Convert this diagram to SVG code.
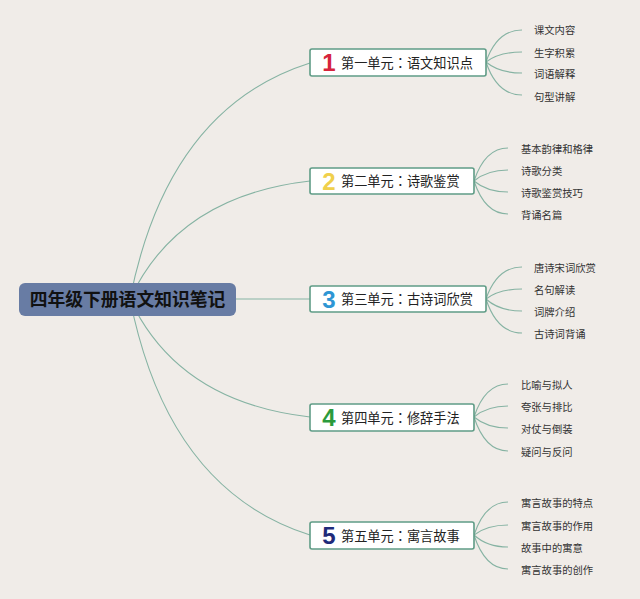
<svg xmlns="http://www.w3.org/2000/svg" width="640" height="599" viewBox="0 0 640 599">
<style>
.bg{fill:#f0ece8}
.con{fill:none;stroke:#86b3a3;stroke-width:1.1}
.root{fill:#687ca4}
.rt{font-family:"Noto Sans CJK SC","Liberation Sans",sans-serif;font-weight:bold;font-size:17.8px;fill:#111;text-anchor:middle}
.box{fill:#fff;stroke:#5f9c86;stroke-width:1.6}
.num{font-family:"Liberation Sans","DejaVu Sans",sans-serif;font-weight:bold;font-size:24px;text-anchor:middle}
.nt{font-family:"Noto Sans CJK SC","Liberation Sans",sans-serif;font-size:13.2px;fill:#222}
.cl{font-family:"Noto Sans CJK TC","Noto Sans CJK SC",sans-serif}
.lf{font-family:"Noto Sans CJK SC","Liberation Sans",sans-serif;font-size:10.3px;fill:#333}
</style>
<rect class="bg" x="0" y="0" width="640" height="599"/>
<g id="connectors">
<path class="con" d="M130,299 Q168,108 310,63"/>
<path class="con" d="M130,299 Q178,196 310,181"/>
<path class="con" d="M236,299 L310,299"/>
<path class="con" d="M130,299 Q178,402 310,417"/>
<path class="con" d="M130,299 Q168,490 310,535"/>
<path class="con" d="M486,62 Q497,30 522,30"/>
<path class="con" d="M486,62 Q499,52 522,52"/>
<path class="con" d="M486,62 Q499,73 522,73"/>
<path class="con" d="M486,62 Q497,95 522,95"/>
<path class="con" d="M474,181 Q485,148 508,148"/>
<path class="con" d="M474,181 Q487,170 508,170"/>
<path class="con" d="M474,181 Q487,192 508,192"/>
<path class="con" d="M474,181 Q485,214 508,214"/>
<path class="con" d="M486,299 Q497,267 522,267"/>
<path class="con" d="M486,299 Q499,289 522,289"/>
<path class="con" d="M486,299 Q499,311 522,311"/>
<path class="con" d="M486,299 Q497,333 522,333"/>
<path class="con" d="M474,417 Q485,384 508,384"/>
<path class="con" d="M474,417 Q487,406 508,406"/>
<path class="con" d="M474,417 Q487,428 508,428"/>
<path class="con" d="M474,417 Q485,451 508,451"/>
<path class="con" d="M474,535 Q485,502 508,502"/>
<path class="con" d="M474,535 Q487,525 508,525"/>
<path class="con" d="M474,535 Q487,547 508,547"/>
<path class="con" d="M474,535 Q485,569 508,569"/>
</g>
<g id="root">
<rect class="root" x="19" y="283" width="217" height="33" rx="6"/>
<text class="rt" x="127.5" y="306">四年级下册语文知识笔记</text>
</g>
<g id="n1">
<rect class="box" x="310" y="49" width="176" height="27" rx="2"/>
<text class="num" x="329" y="71" fill="#d6243c">1</text>
<text class="nt" x="341" y="67.5">第一单元<tspan class="cl">：</tspan>语文知识点</text>
</g>
<g id="n2">
<rect class="box" x="310" y="168" width="164" height="26" rx="2"/>
<text class="num" x="329" y="190" fill="#f0d04c">2</text>
<text class="nt" x="341" y="186">第二单元<tspan class="cl">：</tspan>诗歌鉴赏</text>
</g>
<g id="n3">
<rect class="box" x="310" y="286" width="176" height="26" rx="2"/>
<text class="num" x="329" y="308" fill="#2e96d4">3</text>
<text class="nt" x="341" y="304">第三单元<tspan class="cl">：</tspan>古诗词欣赏</text>
</g>
<g id="n4">
<rect class="box" x="310" y="404" width="164" height="27" rx="2"/>
<text class="num" x="329" y="426" fill="#2b9a3c">4</text>
<text class="nt" x="341" y="422.5">第四单元<tspan class="cl">：</tspan>修辞手法</text>
</g>
<g id="n5">
<rect class="box" x="310" y="522" width="164" height="27" rx="2"/>
<text class="num" x="329" y="544" fill="#1f2b7a">5</text>
<text class="nt" x="341" y="540.5">第五单元<tspan class="cl">：</tspan>寓言故事</text>
</g>
<g id="l1">
<text class="lf" x="534" y="34">课文内容</text>
<text class="lf" x="534" y="56.5">生字积累</text>
<text class="lf" x="534" y="78">词语解释</text>
<text class="lf" x="534" y="100.5">句型讲解</text>
</g>
<g id="l2">
<text class="lf" x="521" y="152.5">基本韵律和格律</text>
<text class="lf" x="521" y="175">诗歌分类</text>
<text class="lf" x="521" y="196.5">诗歌鉴赏技巧</text>
<text class="lf" x="521" y="218.5">背诵名篇</text>
</g>
<g id="l3">
<text class="lf" x="534" y="271.5">唐诗宋词欣赏</text>
<text class="lf" x="534" y="293.5">名句解读</text>
<text class="lf" x="534" y="315.5">词牌介绍</text>
<text class="lf" x="534" y="337.5">古诗词背诵</text>
</g>
<g id="l4">
<text class="lf" x="521" y="389">比喻与拟人</text>
<text class="lf" x="521" y="411">夸张与排比</text>
<text class="lf" x="521" y="433">对仗与倒装</text>
<text class="lf" x="521" y="455.5">疑问与反问</text>
</g>
<g id="l5">
<text class="lf" x="521" y="507">寓言故事的特点</text>
<text class="lf" x="521" y="529.5">寓言故事的作用</text>
<text class="lf" x="521" y="551.5">故事中的寓意</text>
<text class="lf" x="521" y="573.5">寓言故事的创作</text>
</g>
</svg>
